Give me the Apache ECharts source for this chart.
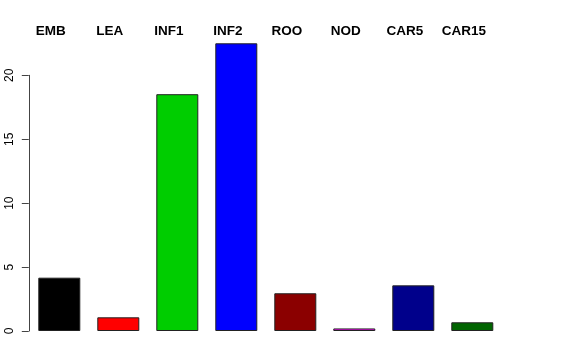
<!DOCTYPE html>
<html>
<head>
<meta charset="utf-8">
<script src="https://cdn.jsdelivr.net/npm/echarts@6/dist/echarts.min.js"></script>
<style>html,body{margin:0;padding:0;background:#fff}#c{width:576px;height:360px}</style>
</head>
<body>
<div id="c"></div>
<script>
var categories = ['EMB', 'LEA', 'INF1', 'INF2', 'ROO', 'NOD', 'CAR5', 'CAR15'];
var values = [4.17, 1.07, 18.52, 22.5, 2.95, 0.2, 3.57, 0.68];
var colors = ['#000000', '#FF0000', '#00CD00', '#0000FF', '#8B0000', '#FF00FF', '#00008B', '#006400'];
var yTicks = [0, 5, 10, 15, 20];

var chart = echarts.init(document.getElementById('c'), null, {renderer: 'canvas'});
var font = '"Liberation Sans", Arial, Helvetica, sans-serif';
chart.setOption({
  animation: false,
  backgroundColor: '#ffffff',
  grid: [
    {left: 29.8, width: 472, top: 43.3, bottom: 29},
    {left: 29.8, width: 472, top: 75.3, bottom: 29},
    {left: 21.3, width: 472, top: 40, bottom: 29}
  ],
  xAxis: [
    {gridIndex: 0, type: 'category', data: categories, show: false},
    {gridIndex: 1, type: 'category', data: categories, show: false},
    {gridIndex: 2, type: 'category', data: categories, position: 'top',
     axisLine: {show: false}, axisTick: {show: false}, splitLine: {show: false},
     axisLabel: {show: true, margin: 2, color: '#000', fontFamily: font, fontWeight: 'bold', fontSize: 13.5, interval: 0}}
  ],
  yAxis: [
    {gridIndex: 0, type: 'value', min: 0, max: 22.5, show: false},
    {gridIndex: 1, type: 'value', min: yTicks[0], max: yTicks[yTicks.length - 1], interval: 5, offset: 1,
     axisLine: {show: true, lineStyle: {color: '#444', width: 1}},
     axisTick: {show: true, length: 7, lineStyle: {color: '#444'}},
     splitLine: {show: false},
     axisLabel: {show: true, rotate: 90, margin: 13, color: '#000', fontFamily: font, fontSize: 12}},
    {gridIndex: 2, type: 'value', show: false}
  ],
  series: [
    {type: 'bar', xAxisIndex: 0, yAxisIndex: 0, barWidth: 42,
     data: values.map(function (v, i) {
       return {value: v, itemStyle: {color: colors[i], borderColor: '#222', borderWidth: 1}};
     })},
    {type: 'bar', xAxisIndex: 1, yAxisIndex: 1, data: []},
    {type: 'bar', xAxisIndex: 2, yAxisIndex: 2, data: []}
  ]
});
</script>
</body>
</html>
